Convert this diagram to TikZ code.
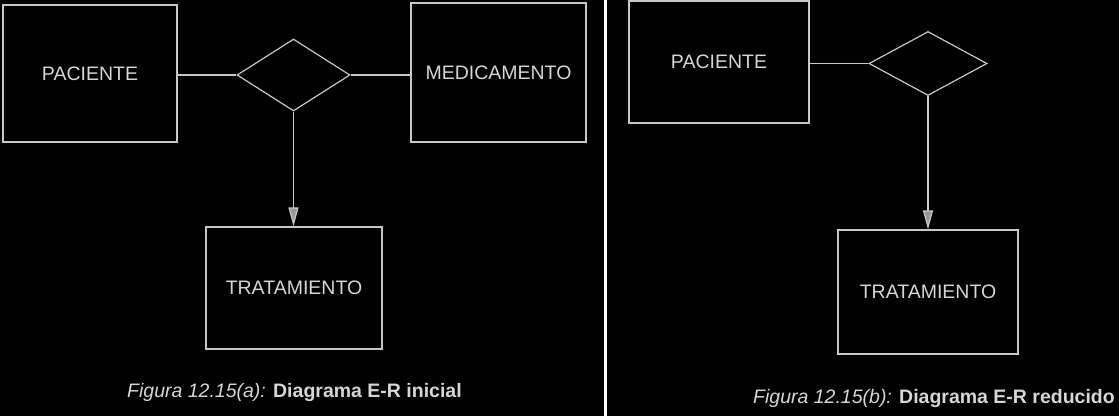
\documentclass[tikz,border=0pt]{standalone}
\usepackage{fontspec}
\setmainfont{Liberation Sans}
\usetikzlibrary{arrows.meta}
\usetikzlibrary{shapes.geometric}
\definecolor{lineGray}{gray}{0.78}
\definecolor{textGray}{gray}{0.84}
\definecolor{tipGray}{gray}{0.6}
\newcommand{\entityBox}[5]{%%
  %% An entity as a plain box.
  \node[boxStyle,minimum width=#4,minimum height=#5] (#1) at #2 {#3};
}
\newcommand{\relDiamond}[4]{%%
  %% A relationship as an empty diamond.
  \node[relStyle,minimum width=#3,minimum height=#4] (#1) at #2 {};
}

\begin{document}
\begin{tikzpicture}[%%
  x=1pt,y=-1pt,%%
  boxStyle/.style={draw=lineGray,line width=1.2pt,text=textGray,inner sep=0pt,%%
    font=\fontsize{19.5}{23}\selectfont},%%
  relStyle/.style={draw=lineGray,line width=1.2pt,diamond,inner sep=0pt},%%
  lineStyle/.style={-,draw=lineGray,line width=1.2pt},%%
  arrowStyle/.style={-{Triangle[length=19pt,width=10pt,fill=tipGray]},draw=lineGray,line width=1.2pt},%%
  captionStyle/.style={text=textGray,inner sep=0pt,font=\fontsize{19.5}{23}\selectfont},%%
  sepStyle/.style={-,white,line width=3pt}%%
]
%%
%%
%% The black page.
\fill[black] (0,0) rectangle (1119,416);
\useasboundingbox (0,0) rectangle (1119,416);
\coordinate (sepTop) at (605.5,0);
\coordinate (sepBottom) at (605.5,416);
%%
%% Figure (a): the initial diagram.
\entityBox{pacienteA}{(90,73.5)}{PACIENTE}{174pt}{137pt}
\relDiamond{relA}{(293.5,75)}{113pt}{72pt}
\entityBox{medicamentoA}{(498.5,72.5)}{MEDICAMENTO}{175pt}{139pt}
\entityBox{tratamientoA}{(294,288)}{TRATAMIENTO}{176pt}{122pt}
\draw[lineStyle] (relA.west -| pacienteA.east) -- (relA.west);
\draw[lineStyle] (relA.east) -- (relA.east -| medicamentoA.west);
\draw[arrowStyle] (relA.south) -- (relA.south |- tratamientoA.north);
\node[captionStyle,anchor=base west] (captionA) at (127,397)
  {\textit{Figura 12.15(a):} \textbf{Diagrama E-R inicial}};
%%
%% The rule between both figures.
\draw[sepStyle] (sepTop) -- (sepBottom);
%%
%% Figure (b): the reduced diagram.
\entityBox{pacienteB}{(719,62)}{PACIENTE}{180pt}{122pt}
\relDiamond{relB}{(928,63.5)}{118pt}{64pt}
\entityBox{tratamientoB}{(928,292)}{TRATAMIENTO}{180pt}{124pt}
\draw[lineStyle] (relB.west -| pacienteB.east) -- (relB.west);
\draw[arrowStyle] (relB.south) -- (relB.south |- tratamientoB.north);
\node[captionStyle,anchor=base east] (captionB) at (1115,403)
  {\textit{Figura 12.15(b):} \textbf{Diagrama E-R reducido}};
\end{tikzpicture}
\end{document}
